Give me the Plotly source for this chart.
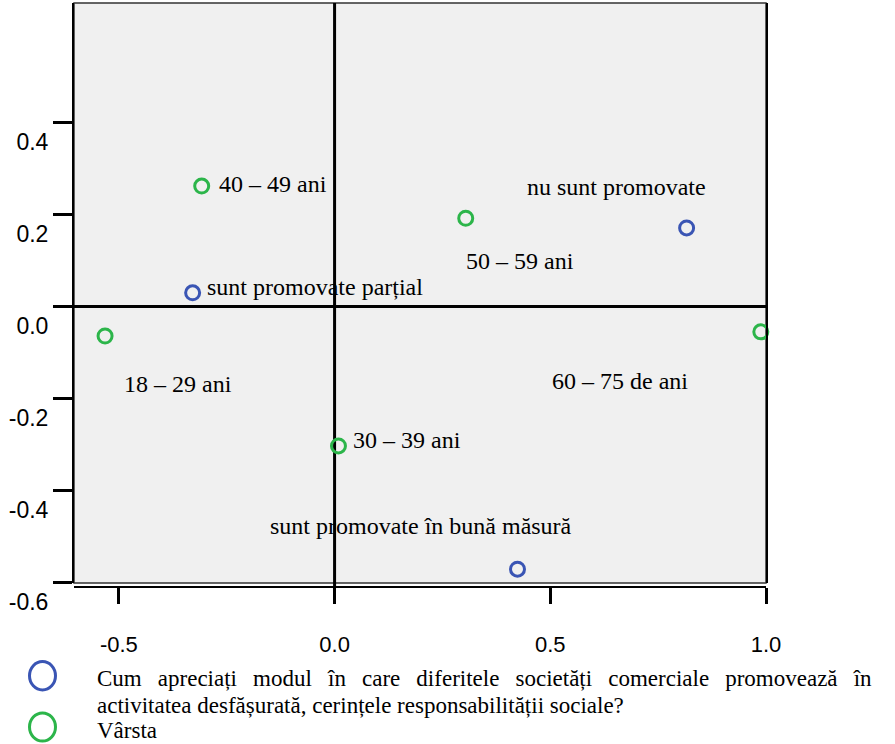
import plotly.graph_objects as go

# Category coordinates (dimension 1, dimension 2)
resp_labels = ["sunt promovate parțial", "nu sunt promovate", "sunt promovate în bună măsură"]
resp_x = [-0.329, 0.816, 0.424]
resp_y = [0.030, 0.171, -0.571]

age_labels = ["40 – 49 ani", "50 – 59 ani", "60 – 75 de ani", "18 – 29 ani", "30 – 39 ani"]
age_x = [-0.308, 0.304, 0.988, -0.532, 0.009]
age_y = [0.262, 0.192, -0.055, -0.064, -0.303]

x_ticks = [-0.5, 0.0, 0.5, 1.0]
x_tick_text = ["-0.5", "0.0", "0.5", "1.0"]
y_ticks = [-0.6, -0.4, -0.2, 0.0, 0.2, 0.4]
y_tick_text = ["-0.6", "-0.4", "-0.2", "0.0", "0.2", "0.4"]

legend_resp = ["Cum apreciați modul în care diferitele societăți comerciale promovează în",
               "activitatea desfășurată, cerințele responsabilității sociale?"]
legend_age = "Vârsta"

BLUE = "#3a55b4"
GREEN = "#2cb54a"
SERIF = "Liberation Serif, Times New Roman, serif"
SANS = "Liberation Sans, Arial, sans-serif"

# label offsets in pixels relative to each point (xanchor left, middle)
resp_shift = [(12, 6), (-162, 41), (-250, 43)]
age_shift = [(15, 2), (-2, -43), (-211, -49), (17, -48), (13, 6)]

fig = go.Figure()

marker_common = dict(symbol="circle-open", size=14)
fig.add_trace(go.Scatter(x=resp_x, y=resp_y, mode="markers", cliponaxis=False,
                         marker=dict(color=BLUE, line=dict(width=3, color=BLUE), **marker_common),
                         showlegend=False, hoverinfo="skip"))
fig.add_trace(go.Scatter(x=age_x, y=age_y, mode="markers", cliponaxis=False,
                         marker=dict(color=GREEN, line=dict(width=3, color=GREEN), **marker_common),
                         showlegend=False, hoverinfo="skip"))

annotations = []
for lbl, x, y, (dx, dy) in zip(resp_labels, resp_x, resp_y, resp_shift):
    annotations.append(dict(x=x, y=y, xref="x", yref="y", text=lbl, showarrow=False,
                            xanchor="left", yanchor="middle", xshift=dx, yshift=dy,
                            font=dict(family=SERIF, size=24, color="black")))
for lbl, x, y, (dx, dy) in zip(age_labels, age_x, age_y, age_shift):
    annotations.append(dict(x=x, y=y, xref="x", yref="y", text=lbl, showarrow=False,
                            xanchor="left", yanchor="middle", xshift=dx, yshift=dy,
                            font=dict(family=SERIF, size=24, color="black")))

# legend block below the axis
W, H = 895, 744
L, R, T, B = 74, 129, 3, 157
pw, ph = W - L - R, H - T - B


def px(xp):
    return (xp - L) / pw


def py(yp):
    return (T + ph - yp) / ph


legend_font = dict(family=SERIF, size=23, color="black")
# first legend line is justified: widen the word gaps
line1 = legend_resp[0].replace(" ", " \u2008\u2009")
annotations.append(dict(x=px(96), y=py(678), xref="paper", yref="paper", text=line1,
                        showarrow=False, xanchor="left", yanchor="middle", font=legend_font,
                        borderpad=0))
annotations.append(dict(x=px(96), y=py(705), xref="paper", yref="paper", text=legend_resp[1],
                        showarrow=False, xanchor="left", yanchor="middle", font=legend_font,
                        borderpad=0))
annotations.append(dict(x=px(96), y=py(730), xref="paper", yref="paper", text=legend_age,
                        showarrow=False, xanchor="left", yanchor="middle", font=legend_font,
                        borderpad=0))

shapes = [
    # plot panel
    dict(type="rect", xref="x domain", yref="y domain", x0=0, x1=1, y0=0, y1=1,
         fillcolor="#f0f0f0", line=dict(color="#333333", width=1.5), layer="below"),
    # reference lines through the origin
    dict(type="line", xref="x domain", yref="y", x0=0, x1=1, y0=0, y1=0,
         line=dict(color="black", width=3), layer="below"),
    dict(type="line", xref="x", yref="paper", x0=0, x1=0, y0=0, y1=1,
         line=dict(color="black", width=3), layer="below"),
    # legend symbols
    dict(type="circle", xref="paper", yref="paper", x0=px(29.5), x1=px(55.5), y0=py(690), y1=py(661.5),
         line=dict(color=BLUE, width=3)),
    dict(type="circle", xref="paper", yref="paper", x0=px(29.5), x1=px(55.5), y0=py(741), y1=py(713),
         line=dict(color=GREEN, width=3)),
]

fig.update_layout(
    width=W, height=H,
    margin=dict(l=L, r=R, t=T, b=B, pad=0),
    paper_bgcolor="white", plot_bgcolor="white",
    showlegend=False,
    annotations=annotations,
    shapes=shapes,
    xaxis=dict(range=[-0.604, 1.0], domain=[0, 1], anchor="free", position=0,
               tickvals=x_ticks, ticktext=x_tick_text, ticks="outside", ticklen=16, tickwidth=3,
               tickcolor="black", showline=True, linecolor="black", linewidth=2,
               showgrid=False, zeroline=False, ticklabelstandoff=22,
               tickfont=dict(family=SANS, size=22, color="black")),
    yaxis=dict(range=[-0.601, 0.66], domain=[4 / ph, 1], anchor="x",
               tickvals=y_ticks, ticktext=y_tick_text, ticks="outside", ticklen=19, tickwidth=3,
               tickcolor="black", showline=True, linecolor="black", linewidth=2, mirror=True,
               showgrid=False, zeroline=False, ticklabelshift=19, ticklabelstandoff=0,
               tickfont=dict(family=SANS, size=23, color="black")),
)

fig.write_html("out.html")
